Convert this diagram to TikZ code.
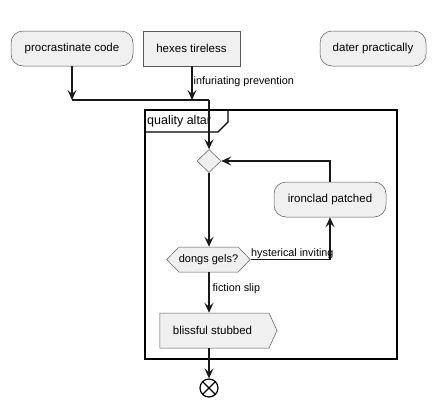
\documentclass[tikz,border=0pt]{standalone}
\usepackage{fontspec}
\setmainfont{Liberation Sans}
\usetikzlibrary{arrows.meta,shapes.geometric,shapes.symbols}
\begin{document}
\begin{tikzpicture}[x=1pt,y=-1pt,
  act/.style={draw=black!65,fill=black!6,line width=0.5pt,rounded corners=12pt,minimum height=35pt,inner sep=0pt,font=\fontsize{11.5}{13}\selectfont},
  box/.style={draw=black!65,fill=black!6,line width=0.5pt,minimum height=35pt,inner sep=0pt,font=\fontsize{11.5}{13}\selectfont},
  conn/.style={draw=black!90,line width=1.2pt,-{Stealth[length=10pt,width=9pt,inset=4pt]}},
  plain/.style={draw=black!90,line width=1.2pt},
  lbl/.style={font=\fontsize{10.8}{12}\selectfont,inner sep=1pt}]
\useasboundingbox (0,0) rectangle (435,410);
\fill[white] (0,0) rectangle (435,410);
% frame
\draw[line width=1.3pt] (145,110) rectangle (397,359);
\draw[line width=1.3pt] (145,132) -- (218,132) -- (228,122) -- (228,110);
\node[anchor=west,inner sep=0pt,font=\fontsize{12.5}{14}\selectfont] (title) at (147,121) {quality altar};
% top nodes
\node[act,minimum width=122pt] (proc) at (72,48.5) {procrastinate code};
\node[box,minimum width=97pt] (hex) at (191.5,48.5) {hexes tireless};
\node[act,minimum width=106pt] (dater) at (373,48.5) {dater practically};
\coordinate (j1) at (72,100);
\coordinate (j2) at (192,100);
\coordinate (j3) at (209,100);
% inner nodes
\node[diamond,draw=black!65,fill=black!6,line width=0.5pt,minimum width=24pt,minimum height=23pt,inner sep=0pt] (dia) at (209,161) {};
\node[act,minimum width=112pt] (iron) at (330,199.5) {ironclad patched};
\node[signal,signal to=west and east,signal pointer angle=92,draw=black!65,fill=black!6,line width=0.5pt,minimum width=83pt,minimum height=25pt,inner sep=0pt,font=\fontsize{11}{13}\selectfont] (dongs) at (208.5,259.5) {dongs gels?};
\node[signal,signal to=east,signal pointer angle=131,draw=black!65,fill=black!6,line width=0.5pt,minimum width=117pt,minimum height=35pt,inner sep=0pt,font=\fontsize{11.5}{13}\selectfont] (bliss) at (214.5,330.5) {\hspace*{-4pt}blissful stubbed};
\node[circle,draw=black,line width=1.2pt,minimum size=18pt,inner sep=0pt] (end) at (209,388) {};
\draw[line width=1.2pt] (end.north east) -- (end.south west) (end.north west) -- (end.south east);
% connectors
\draw[conn] (proc.south) -- (j1);
\draw[conn] (hex.south -| j2) -- (j2) node[lbl,pos=0.45,anchor=west] (l1) {infuriating prevention};
\draw[plain] (j1) -- (j3);
\draw[conn] (j3) -- (dia.north);
\draw[conn] (dia.south) -- (dongs.north -| dia);
\draw[conn] (iron.north) |- (dia.east);
\draw[conn] (dongs.east) -| (iron.south);
\node[lbl,anchor=south west] (l2) at (250,260) {hysterical inviting};
\draw[conn] (dongs.south -| dia) -- (bliss.north -| dia) node[lbl,pos=0.4,anchor=west,xshift=2pt] (l3) {fiction slip};
\draw[conn] (bliss.south -| dia) -- (end.north);
\end{tikzpicture}
\end{document}
